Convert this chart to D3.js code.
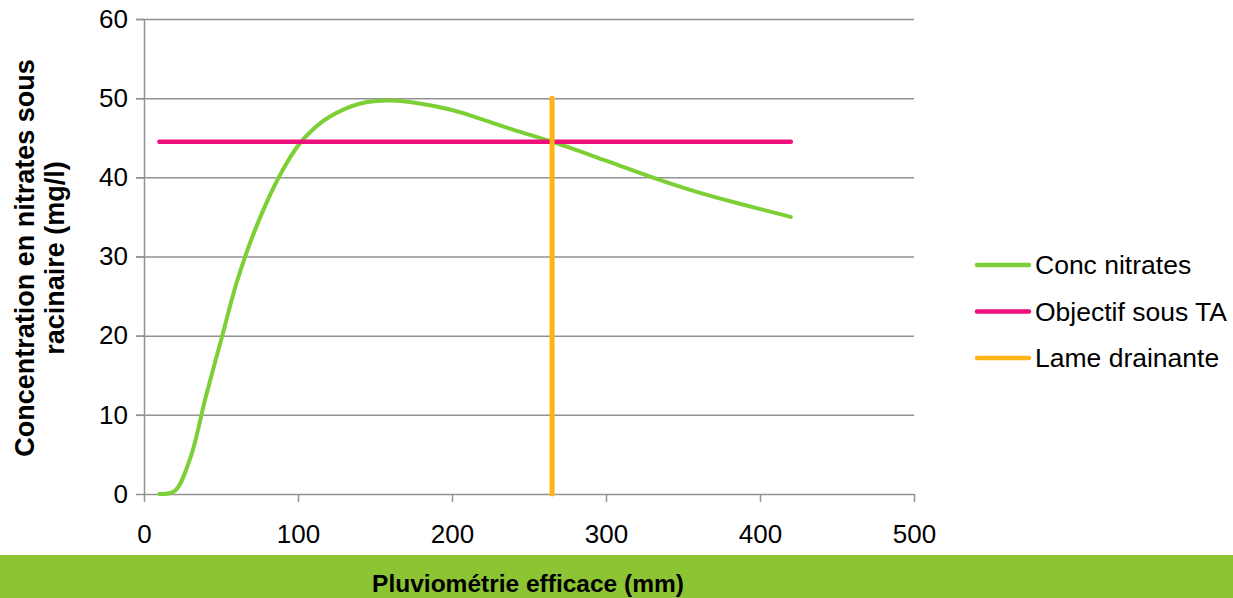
<!DOCTYPE html>
<html>
<head>
<meta charset="utf-8">
<script src="https://cdn.jsdelivr.net/npm/d3@7"></script>
<style>
  body { margin: 0; background: #fff; }
  svg { display: block; font-family: "Liberation Sans", Arial, sans-serif; }
  .grid line { stroke: #929292; stroke-width: 1.5; }
  .grid .domain { display: none; }
  .axis .domain, .axis line { stroke: #929292; stroke-width: 1.5; }
  .axis text { fill: #000; font-size: 26px; }
</style>
</head>
<body>
<svg id="chart" width="1233" height="598"></svg>
<script>
// Pluviométrie efficace (mm) -> concentration (mg/l)
const concX = [10, 20, 30, 40, 50, 60, 70, 80, 90, 100, 110, 120, 140, 160, 180, 200, 220, 240, 265, 300, 330, 360, 390, 420];
const concY = [0, 0.4, 4.5, 12.2, 19.4, 26.6, 32.3, 37.0, 40.9, 44.0, 46.1, 47.6, 49.3, 49.7, 49.3, 48.5, 47.3, 46.0, 44.5, 42.1, 40.0, 38.1, 36.5, 35.0];

const objectifX = [10, 420];
const objectifY = [44.5, 44.5];

const lameX = [265, 265, 265];
const lameY = [0, 35, 50];

const xTicks = [0, 100, 200, 300, 400, 500];
const yTicks = [0, 10, 20, 30, 40, 50, 60];

const seriesNames = ["Conc nitrates", "Objectif sous TA", "Lame drainante"];
const seriesColors = ["#7dcf36", "#ec0f7c", "#fdb515"];

const svg = d3.select("#chart");
const margin = { top: 19, left: 144 };
const innerWidth = 770;
const innerHeight = 475;

const g = svg.append("g").attr("transform", `translate(${margin.left}, ${margin.top})`);

const x = d3.scaleLinear().domain([0, 500]).range([0, innerWidth]);
const y = d3.scaleLinear().domain([0, 60]).range([innerHeight, 0]);

// gridlines (extend slightly left as tick marks)
g.append("g")
  .attr("class", "grid")
  .attr("transform", "translate(-8, 0)")
  .call(d3.axisLeft(y).tickValues(yTicks.slice(1)).tickSize(-(innerWidth + 8)).tickFormat(""));

g.append("g")
  .attr("class", "axis")
  .attr("transform", `translate(0, ${innerHeight})`)
  .call(d3.axisBottom(x).tickValues(xTicks).tickSize(8).tickSizeOuter(0).tickPadding(23));

g.append("g")
  .attr("class", "axis")
  .call(d3.axisLeft(y).tickValues(yTicks).tickSize(8).tickSizeOuter(0).tickPadding(8));

const line = d3.line().x((d) => x(d[0])).y((d) => y(d[1]));

const series = [
  { pts: d3.zip(concX, concY), curve: d3.curveCatmullRom.alpha(0.5), width: 4 },
  { pts: d3.zip(objectifX, objectifY), curve: d3.curveLinear, width: 4.5 },
  { pts: d3.zip(lameX, lameY), curve: d3.curveLinear, width: 5 },
];

series.forEach((s, i) => {
  g.append("path")
    .datum(s.pts)
    .attr("fill", "none")
    .attr("stroke", seriesColors[i])
    .attr("stroke-width", s.width)
    .attr("stroke-linecap", "round")
    .attr("d", line.curve(s.curve));
});

// legend
const legend = svg.append("g").attr("transform", "translate(977, 265)");
seriesNames.forEach((name, i) => {
  const row = legend.append("g").attr("transform", `translate(0, ${i * 46.5})`);
  row.append("line")
    .attr("x1", 0).attr("x2", 52)
    .attr("stroke", seriesColors[i])
    .attr("stroke-width", 4.5)
    .attr("stroke-linecap", "round");
  row.append("text")
    .attr("x", 58)
    .attr("y", 9)
    .attr("font-size", 26.5)
    .attr("fill", "#000")
    .text(name);
});

// bottom band with x title
svg.append("rect")
  .attr("x", 0).attr("y", 555)
  .attr("width", 1233).attr("height", 43)
  .attr("fill", "#8dc434");

svg.append("text")
  .attr("x", 528)
  .attr("y", 592)
  .attr("text-anchor", "middle")
  .attr("font-size", 24.5)
  .attr("font-weight", "bold")
  .attr("fill", "#000")
  .text("Pluviométrie efficace (mm)");

// y title
const yTitle = svg.append("text")
  .attr("transform", "translate(0, 258) rotate(-90)")
  .attr("text-anchor", "middle")
  .attr("font-size", 27)
  .attr("font-weight", "bold")
  .attr("fill", "#000");
yTitle.append("tspan").attr("x", 0).attr("y", 34).text("Concentration en nitrates sous");
yTitle.append("tspan").attr("x", 0).attr("y", 64).text("racinaire (mg/l)");
</script>
</body>
</html>
